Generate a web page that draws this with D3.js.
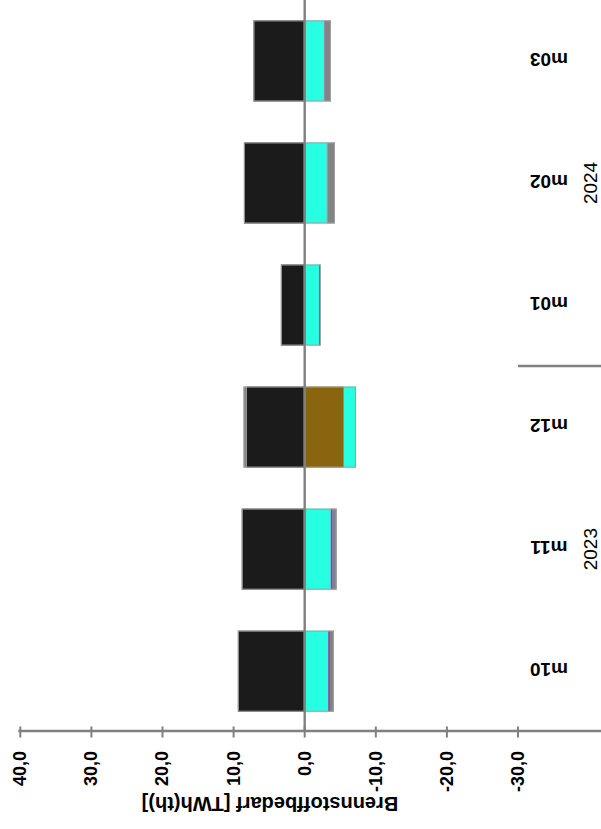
<!DOCTYPE html>
<html>
<head>
<meta charset="utf-8">
<script src="https://cdn.jsdelivr.net/npm/d3@7"></script>
<style>
  html, body { margin: 0; padding: 0; background: #fff; }
  svg { display: block; }
  text { font-family: "Liberation Sans", Arial, sans-serif; }
</style>
</head>
<body>
<div id="chart"></div>
<script>
// ---- data ----
const categories = ["m10", "m11", "m12", "m01", "m02", "m03"];
const yearLabels = ["2023", "2024"];
const yearCenters = ["m11", "m02"];
const yearBreakBetween = ["m12", "m01"];
const seriesKeys = ["brown", "black", "cyan", "purple", "gray"];
const brown  = [0, 0, -5.5, 0, -0.05, -0.2];
const black  = [9.4, 8.85, 8.15, 3.35, 8.55, 7.2];
const cyan   = [-3.3, -3.65, -1.6, -2.0, -3.05, -2.5];
const purple = [-0.25, -0.3, -0.1, -0.2, -0.1, -0.1];
const gray   = [-0.55, -0.55, 0.45, -0.05, -1.05, -0.9];
const tickValues = [40, 30, 20, 10, 0, -10, -20, -30];
const axisTitle = "Brennstoffbedarf [TWh(th)]";

const colors = { brown: "#8b6410", black: "#1b1b1b", cyan: "#27ffe2", purple: "#6a4fa8", gray: "#838383" };

const rows = categories.map((c, i) => ({
  cat: c, brown: brown[i], black: black[i], cyan: cyan[i], purple: purple[i], gray: gray[i]
}));

const W = 601, H = 829;
const svg = d3.select("#chart").append("svg").attr("width", W).attr("height", H);

const x = d3.scaleLinear().domain([40, -30]).range([20.3, 518]);
const y = d3.scaleBand().domain(categories).range([732.2, -0.1]).paddingInner(0.336).paddingOuter(0.168);

const stacked = d3.stack().keys(seriesKeys).offset(d3.stackOffsetDiverging)(rows);

// bars
const gBars = svg.append("g");
stacked.forEach(s => {
  gBars.append("g").attr("fill", colors[s.key])
    .selectAll("rect").data(s).join("rect")
    .attr("x", d => Math.min(x(d[0]), x(d[1])))
    .attr("width", d => Math.abs(x(d[0]) - x(d[1])))
    .attr("y", d => y(d.data.cat))
    .attr("height", y.bandwidth());
});
// outlines
rows.forEach(r => {
  let pos = 0, neg = 0;
  seriesKeys.forEach(k => { if (r[k] > 0) pos += r[k]; else neg += r[k]; });
  [[0, pos], [neg, 0]].forEach(([a, b]) => {
    if (a === b) return;
    gBars.append("rect")
      .attr("x", Math.min(x(a), x(b)) + 0.5)
      .attr("width", Math.abs(x(a) - x(b)) - 1)
      .attr("y", y(r.cat) + 0.5)
      .attr("height", y.bandwidth() - 1)
      .attr("fill", "none").attr("stroke", "#a0a0a0").attr("stroke-width", 1);
  });
});

const axisY = 731;
const lineColor = "#808080";

// zero line
svg.append("line")
  .attr("x1", x(0)).attr("x2", x(0)).attr("y1", 0).attr("y2", axisY)
  .attr("stroke", lineColor).attr("stroke-width", 2.4);

// value axis
const axisG = svg.append("g").attr("transform", `translate(0,${axisY})`);
axisG.append("line")
  .attr("x1", x(40) - 2).attr("x2", W).attr("y1", 0).attr("y2", 0)
  .attr("stroke", lineColor).attr("stroke-width", 2.4);
axisG.selectAll("line.tick").data(tickValues).join("line")
  .attr("class", "tick")
  .attr("x1", d => x(d)).attr("x2", d => x(d))
  .attr("y1", -4.5).attr("y2", 6.5)
  .attr("stroke", lineColor).attr("stroke-width", 2);
const fmt = v => d3.format(".1f")(v).replace(".", ",").replace("−", "-");
svg.append("g").selectAll("text").data(tickValues).join("text")
  .attr("transform", d => `translate(${x(d) - 0.5},751) rotate(-90)`)
  .attr("text-anchor", "end")
  .attr("dy", "0.36em")
  .attr("font-size", 18).attr("font-weight", "bold").attr("fill", "#000")
  .text(fmt);

// axis title (upside down)
svg.append("text")
  .attr("transform", `translate(270,797) rotate(180)`)
  .attr("text-anchor", "middle")
  .attr("font-size", 20).attr("font-weight", "bold").attr("fill", "#000")
  .text(axisTitle);

// category labels (upside down)
svg.append("g").selectAll("text").data(categories).join("text")
  .attr("transform", d => `translate(549,${y(d) + y.bandwidth() / 2 - 8}) rotate(180)`)
  .attr("text-anchor", "middle")
  .attr("font-size", 19).attr("font-weight", "bold").attr("fill", "#000")
  .text(d => d);

// year labels
svg.append("g").selectAll("text").data(yearLabels).join("text")
  .attr("transform", (d, i) => `translate(590,${y(yearCenters[i]) + y.bandwidth() / 2}) rotate(-90)`)
  .attr("text-anchor", "middle")
  .attr("dy", "0.36em")
  .attr("font-size", 19).attr("fill", "#000")
  .text(d => d);

// year separator
const sepY = (y(yearBreakBetween[0]) + y(yearBreakBetween[1]) + y.bandwidth()) / 2;
svg.append("line")
  .attr("x1", 518).attr("x2", W).attr("y1", sepY).attr("y2", sepY)
  .attr("stroke", lineColor).attr("stroke-width", 2.4);
</script>
</body>
</html>
